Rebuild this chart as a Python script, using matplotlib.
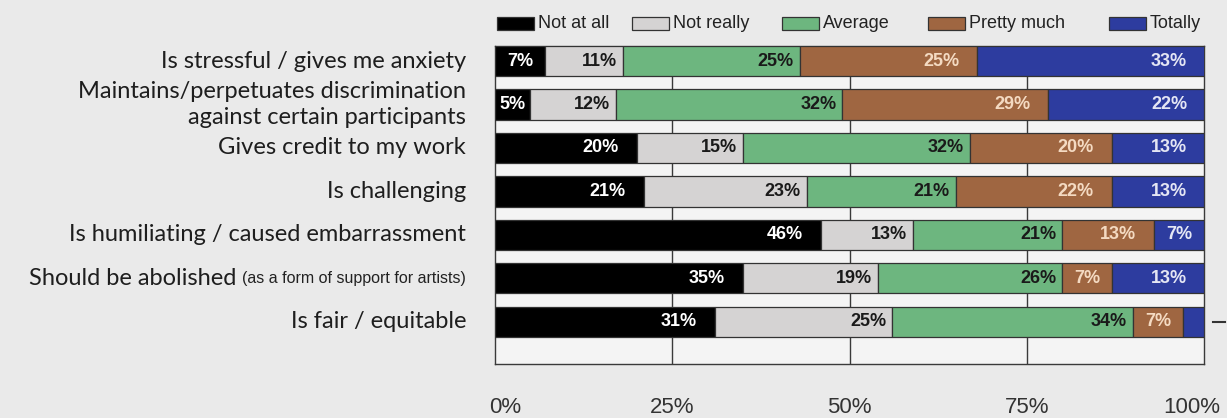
import matplotlib
matplotlib.use("Agg")
import matplotlib.pyplot as plt
import numpy as np
from matplotlib.transforms import ScaledTranslation
from matplotlib.patches import Rectangle
from matplotlib.lines import Line2D

# ---- data -------------------------------------------------------------
statements = [
    "Is stressful / gives me anxiety",
    "Maintains/perpetuates discrimination\nagainst certain participants",
    "Gives credit to my work",
    "Is challenging",
    "Is humiliating / caused embarrassment",
    "Should be abolished",
    "Is fair / equitable",
]
statement_notes = ["", "", "", "", "", "(as a form of support for artists)", ""]

responses = ["Not at all", "Not really", "Average", "Pretty much", "Totally"]
not_at_all = [7, 5, 20, 21, 46, 35, 31]
not_really = [11, 12, 15, 23, 13, 19, 25]
average = [25, 32, 32, 21, 21, 26, 34]
pretty_much = [25, 29, 20, 22, 13, 7, 7]
totally = [33, 22, 13, 13, 7, 13, 3]

x_ticks = [0, 25, 50, 75, 100]
x_tick_labels = ["0%", "25%", "50%", "75%", "100%"]

# ---- style ------------------------------------------------------------
W, H = 1227, 418
BG = "#eaeaea"
PLOT_BG = "#f4f4f4"
EDGE = "#333333"
fills = ["#000000", "#d5d3d3", "#6db67f", "#9f6641", "#2d3c9f"]
text_cols = ["#ffffff", "#1a1a1a", "#1a1a1a", "#f4dac2", "#e4e6f4"]
label_pad_px = [18, 6, 6, 18, 17]
series = [not_at_all, not_really, average, pretty_much, totally]

fig = plt.figure(figsize=(W / 100, H / 100), dpi=100, facecolor=BG)
ax = fig.add_axes([495 / W, 54 / H, 709 / W, 318 / H])
ax.set_facecolor(PLOT_BG)
ax.set_xlim(0, 100)
ax.set_ylim(6.966, -0.345)

for s in ax.spines.values():
    s.set_color("#3a3a3a")
    s.set_linewidth(1.0)

ax.set_xticks(x_ticks)
ax.set_xticklabels(x_tick_labels, fontsize=16, color="#333333",
                   family="Liberation Sans")
ax.tick_params(axis="x", length=0, pad=24)
ax.set_yticks([])
# keep the edge tick labels inside the canvas
tl = ax.get_xticklabels()
tl[0].set_transform(tl[0].get_transform() + ScaledTranslation(10 / 100, 0, fig.dpi_scale_trans))
tl[-1].set_transform(tl[-1].get_transform() + ScaledTranslation(-12 / 100, 0, fig.dpi_scale_trans))

for xv in x_ticks[1:-1]:
    ax.axvline(xv, color="#3a3a3a", lw=1.0, zorder=1)

ys = np.arange(len(statements))
left = np.zeros(len(ys))
for name, vals, fc, tc, pad in zip(responses, series, fills, text_cols, label_pad_px):
    vals = np.asarray(vals, dtype=float)
    ax.barh(ys, vals, left=left, height=0.69, color=fc, edgecolor=EDGE,
            linewidth=0.9, zorder=3, label=name)
    for y, v, l in zip(ys, vals, left):
        if v < 5:
            continue
        end = min(l + v, 100)
        if v < 10:
            ax.text((l + end) / 2, y, f"{v:.0f}%", ha="center", va="center",
                    color=tc, fontsize=13, fontweight="bold",
                    family="Liberation Sans", zorder=4)
        else:
            off = ScaledTranslation(-pad / 100, 0, fig.dpi_scale_trans)
            ax.text(end, y, f"{v:.0f}%", ha="right", va="center",
                    color=tc, fontsize=13, fontweight="bold",
                    family="Liberation Sans", zorder=4,
                    transform=ax.transData + off)
    left += vals

# ---- category labels --------------------------------------------------
lab_off = ScaledTranslation(-29 / 100, 0, fig.dpi_scale_trans)
for y, label, note in zip(ys, statements, statement_notes):
    if note:
        nt = ax.text(0, y, note, ha="right", va="center", fontsize=11.5,
                     color="#222222",
                     family=["Liberation Sans Narrow", "Liberation Sans"],
                     transform=ax.transData + lab_off, clip_on=False)
        ax.annotate(label + " ", xy=(0, 0.5), xycoords=nt, ha="right",
                    va="center", fontsize=17, color="#1e1e1e", family="Lato",
                    annotation_clip=False)
    else:
        ax.text(0, y, label, ha="right", va="center", fontsize=17,
                color="#1e1e1e", family="Lato", linespacing=1.3,
                transform=ax.transData + lab_off, clip_on=False)

# ---- legend -----------------------------------------------------------
legend_x = [497, 632, 782, 928, 1109]
for x0, name, fc in zip(legend_x, responses, fills):
    fig.add_artist(Rectangle((x0 / W, 1 - 30 / H), 37 / W, 13 / H,
                             facecolor=fc, edgecolor=EDGE, lw=0.9,
                             transform=fig.transFigure))
    fig.text((x0 + 41) / W, 1 - 23.5 / H, name, ha="left", va="center",
             fontsize=13, color="#222222", family="Liberation Sans")

fig.add_artist(Line2D([1213 / W, 1225 / W], [1 - 322 / H, 1 - 322 / H],
                      color="#333333", lw=1.5, transform=fig.transFigure))

fig.savefig("out.png", dpi=100, facecolor=BG)
